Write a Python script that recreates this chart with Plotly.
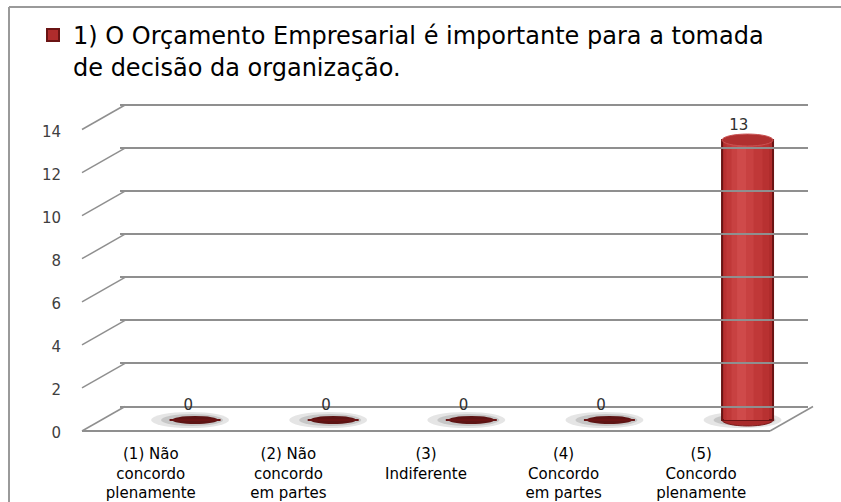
import plotly.graph_objects as go

# ---------------- data ----------------
tick_labels = [
    "(1) Não<br>concordo<br>plenamente",
    "(2) Não<br>concordo<br>em partes",
    "(3)<br>Indiferente",
    "(4)<br>Concordo<br>em partes",
    "(5)<br>Concordo<br>plenamente",
]
values = [0, 0, 0, 0, 13]
series_name = "1) O Orçamento Empresarial é importante para a tomada<br>de decisão da organização."
y_ticks = [0, 2, 4, 6, 8, 10, 12, 14]

# ---------------- layout helpers ----------------
W, H = 841, 502
def fx(px):
    return px / W
def fy(py):
    return 1 - py / H
def ydom(zero_px, top_px, rng):
    s = (zero_px - top_px) / 14.0
    return [fy(zero_px - rng[0] * s), fy(zero_px - rng[1] * s)]

DEPTH_X, DEPTH_Y = 43, 24.5           # 3D offset front -> back wall
BACK_L, BACK_R = 125, 813             # back wall x extent (px)
FRONT_L, FRONT_R = 82, 770            # front floor edge
BAR_L, BAR_R = 126, 816.6             # bar category band
unit = (BAR_R - BAR_L) / 5            # px per category
GRID = "#8f8f8f"
YR_WALL = [-1.5, 14.5]
YR_BAR = [-1.0, 14.5]

fig = go.Figure()

# cylinder shading layers: (width px, center offset px, colour)
layers = [
    (51, 0, "#b02c2c"),
    (45, -1, "#b83131"),
    (36, -3, "#c03838"),
    (22, -5, "#c84141"),
    (9, -6, "#cf4a4a"),
]
for k, (w, off, col) in enumerate(layers):
    fig.add_trace(go.Bar(
        x=tick_labels, y=values,
        width=w / unit, offset=(off - w / 2) / unit,
        marker=dict(color=col,
                    line=dict(color="#6a1414", width=2 if k == 0 else 0)),
        name=series_name, showlegend=(k == 0),
        xaxis="x3", yaxis="y3", hoverinfo="skip",
    ))

# value labels
fig.add_trace(go.Scatter(
    x=tick_labels, y=values, text=[str(v) for v in values],
    mode="text", textposition="middle center",
    textfont=dict(family="DejaVu Sans", size=15, color="#303030"),
    xaxis="x4", yaxis="y", showlegend=False, hoverinfo="skip", cliponaxis=False,
))

# invisible carrier so the front axes (tick + category labels) are drawn
fig.add_trace(go.Scatter(
    x=list(range(len(tick_labels))), y=values, mode="markers",
    marker=dict(opacity=0), xaxis="x2", yaxis="y2",
    showlegend=False, hoverinfo="skip",
))

shapes = []
# outer border (only left + top edges are visible in the picture)
shapes.append(dict(type="line", xref="paper", yref="paper",
                   x0=fx(9), x1=fx(9), y0=0, y1=fy(7),
                   line=dict(color="#9a9a9a", width=2), layer="below"))
shapes.append(dict(type="line", xref="paper", yref="paper",
                   x0=fx(9), x1=1, y0=fy(7), y1=fy(7),
                   line=dict(color="#9a9a9a", width=2), layer="below"))
wall = dict(xref="paper", yref="y", xsizemode="pixel", ysizemode="pixel",
            xanchor=fx(BACK_L), layer="below")
# floor: front edge and right edge
shapes.append(dict(type="line", yanchor=0,
                   x0=FRONT_L - BACK_L, y0=-DEPTH_Y, x1=FRONT_R - BACK_L, y1=-DEPTH_Y,
                   line=dict(color=GRID, width=2), **wall))
shapes.append(dict(type="line", yanchor=0,
                   x0=FRONT_R - BACK_L, y0=-DEPTH_Y, x1=BACK_R - BACK_L, y1=0,
                   line=dict(color=GRID, width=1.5), **wall))
# side wall lines
for t in y_ticks:
    shapes.append(dict(type="line", yanchor=t,
                       x0=-DEPTH_X, y0=-DEPTH_Y, x1=0, y1=0,
                       line=dict(color=GRID, width=1.5), **wall))
# shadows, bases and tops of the cylinders
for i, v in enumerate(values):
    shapes.append(dict(type="circle", xref="x3", yref="y3",
                       xsizemode="pixel", ysizemode="pixel", xanchor=i, yanchor=0,
                       x0=-44, x1=34, y0=-8, y1=8,
                       fillcolor="rgba(150,150,150,0.25)", line=dict(width=0), layer="below"))
    shapes.append(dict(type="circle", xref="x3", yref="y3",
                       xsizemode="pixel", ysizemode="pixel", xanchor=i, yanchor=0,
                       x0=-34, x1=28, y0=-6, y1=6,
                       fillcolor="rgba(140,140,140,0.35)", line=dict(width=0), layer="below"))
    if v == 0:
        shapes.append(dict(type="circle", xref="x3", yref="y3",
                           xsizemode="pixel", ysizemode="pixel", xanchor=i, yanchor=0,
                           x0=-23, x1=23, y0=-4, y1=4,
                           fillcolor="#5e1414", line=dict(width=0), layer="below"))
    else:
        shapes.append(dict(type="circle", xref="x3", yref="y3",
                           xsizemode="pixel", ysizemode="pixel", xanchor=i, yanchor=0,
                           x0=-25.5, x1=25.5, y0=-6, y1=6,
                           fillcolor="#a82a2a", line=dict(color="#7a1a1a", width=1), layer="below"))
        shapes.append(dict(type="circle", xref="x3", yref="y3",
                           xsizemode="pixel", ysizemode="pixel", xanchor=i, yanchor=v,
                           x0=-25.5, x1=25.5, y0=-6, y1=6,
                           fillcolor="#b03030", line=dict(color="#c95252", width=1), layer="above"))

fig.update_layout(
    width=W, height=H,
    margin=dict(l=0, r=0, t=0, b=0, autoexpand=False),
    paper_bgcolor="white", plot_bgcolor="rgba(0,0,0,0)",
    barmode="overlay",
    font=dict(family="DejaVu Sans", color="#000000"),
    shapes=shapes,
    # back wall (gridlines)
    xaxis=dict(domain=[fx(BACK_L), fx(BACK_R)], range=[-0.5, 4.5], visible=False,
               anchor="y", automargin=False),
    yaxis=dict(domain=ydom(406.5, 105, YR_WALL), range=YR_WALL, anchor="x",
               tickvals=y_ticks, showticklabels=False, ticks="",
               showgrid=True, gridcolor=GRID, gridwidth=1.5,
               zeroline=False, showline=False, automargin=False),
    # front axes (tick labels)
    xaxis2=dict(domain=[fx(FRONT_L), fx(FRONT_R)], range=[-0.5, 4.5], type="linear",
                anchor="y2", tickvals=list(range(len(tick_labels))), ticktext=tick_labels,
                ticks="", showgrid=False, zeroline=False, showline=False,
                tickfont=dict(family="DejaVu Sans", size=15, color="#000000"),
                ticklabelstandoff=10, automargin=False),
    yaxis2=dict(domain=[fy(433), fy(131.5)], range=[0, 14], anchor="x2",
                tickvals=y_ticks, ticks="", showgrid=False, zeroline=False, showline=False,
                tickfont=dict(family="DejaVu Sans", size=15, color="#404040"),
                ticklabelstandoff=20, automargin=False),
    # bars
    xaxis3=dict(domain=[fx(BAR_L), fx(BAR_R)], range=[-0.5, 4.5], type="category",
                anchor="y3", visible=False, automargin=False),
    yaxis3=dict(domain=ydom(420, 118.5, YR_BAR), range=YR_BAR, anchor="x3",
                visible=False, automargin=False),
    # value labels
    xaxis4=dict(domain=[fx(119.5), fx(807.5)], range=[-0.5, 4.5], type="category",
                anchor="y", visible=False, automargin=False),
    legend=dict(x=fx(33), y=fy(13), xanchor="left", yanchor="top",
                valign="top", bgcolor="rgba(0,0,0,0)",
                font=dict(family="DejaVu Sans", size=24, color="#000000")),
    showlegend=True,
)

fig.write_html(
    "out.html",
    config={"displayModeBar": False},
    post_script="document.body.style.margin='0';document.body.style.overflow='hidden';",
)
